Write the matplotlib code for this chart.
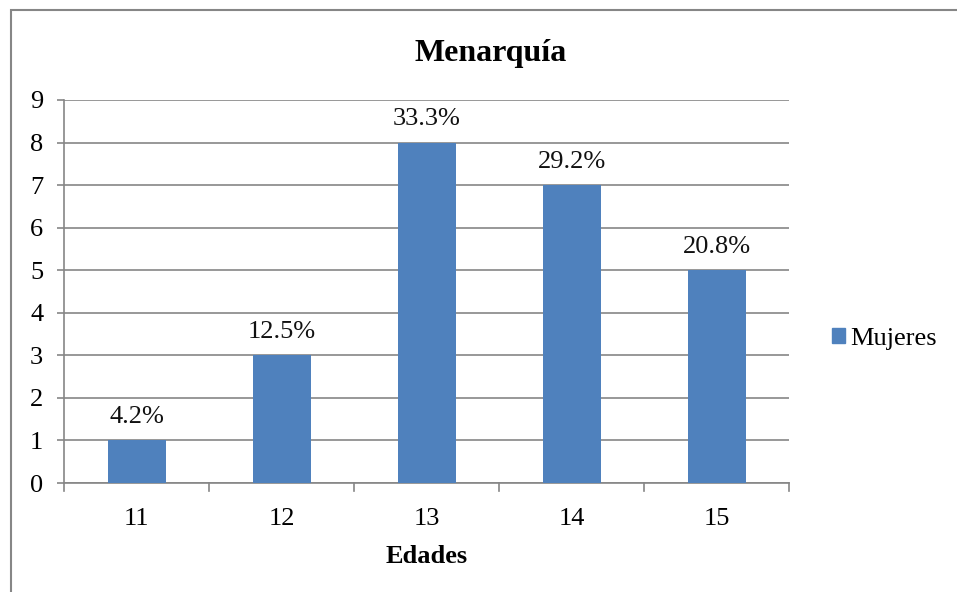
"""Menarquía: bar chart of age at menarche, with percentage labels."""

import matplotlib.pyplot as plt
import matplotlib.patches as mpatches

plt.rcParams.update({
    "font.family": ["Liberation Serif", "DejaVu Serif"],
    "figure.facecolor": "white",
    "axes.facecolor": "white",
})

edades = ["11", "12", "13", "14", "15"]
mujeres = [1, 3, 8, 7, 5]
porcentajes = ["4.2%", "12.5%", "33.3%", "29.2%", "20.8%"]
y_ticks = list(range(0, 10))

BAR_COLOR = "#4F81BD"
GRID_COLOR = "#868686"

fig = plt.figure(figsize=(9.57, 5.92), dpi=100)
ax = fig.add_axes([0.0669, 0.1841, 0.7576, 0.6470])

x = list(range(len(edades)))
ax.bar(x, mujeres, width=0.4, color=BAR_COLOR, zorder=3, label="Mujeres")

for xi, v, pct in zip(x, mujeres, porcentajes):
    ax.annotate(pct, (xi, v), xytext=(0, 9), textcoords="offset points",
                ha="center", va="bottom", fontsize=19, color="#111")

ax.set_xlim(-0.5, len(edades) - 0.5)
ax.set_ylim(0, 9)
ax.set_yticks(y_ticks)
ax.set_yticklabels([str(t) for t in y_ticks], fontsize=19)
ax.set_xticks(x)
ax.set_xticklabels(edades, fontsize=19)
ax.tick_params(axis="x", length=0, pad=18)
ax.tick_params(axis="y", length=5, width=1.2, color=GRID_COLOR, pad=10)

# category boundary ticks below the x axis
for b in [i - 0.5 for i in range(len(edades) + 1)]:
    ax.plot([b, b], [0, -0.18], color=GRID_COLOR, lw=1.2, clip_on=False, zorder=4)

ax.grid(True, axis="y", color=GRID_COLOR, lw=1.2, zorder=0)
ax.set_axisbelow(True)
for side in ("top", "right"):
    ax.spines[side].set_visible(False)
for side in ("left", "bottom"):
    ax.spines[side].set_color(GRID_COLOR)
    ax.spines[side].set_linewidth(1.2)

ax.set_xlabel("Edades", fontsize=19, fontweight="bold", labelpad=11)
fig.text(0.513, 0.91, "Menarquía", fontsize=23, fontweight="bold",
         ha="center", va="center")

handle = mpatches.Patch(color=BAR_COLOR, label="Mujeres")
fig.legend(handles=[handle], loc="center left", bbox_to_anchor=(0.869, 0.427),
           frameon=False, fontsize=19, handlelength=0.5, handleheight=0.5,
           handletextpad=0.2, borderaxespad=0, borderpad=0)

# outer chart frame
fig.add_artist(mpatches.Rectangle((11 / 957, -0.1), 1.2, (592 - 10) / 592 + 0.1,
                                  transform=fig.transFigure, fill=False,
                                  edgecolor=GRID_COLOR, lw=1.5))

fig.savefig("out.png", dpi=100)
